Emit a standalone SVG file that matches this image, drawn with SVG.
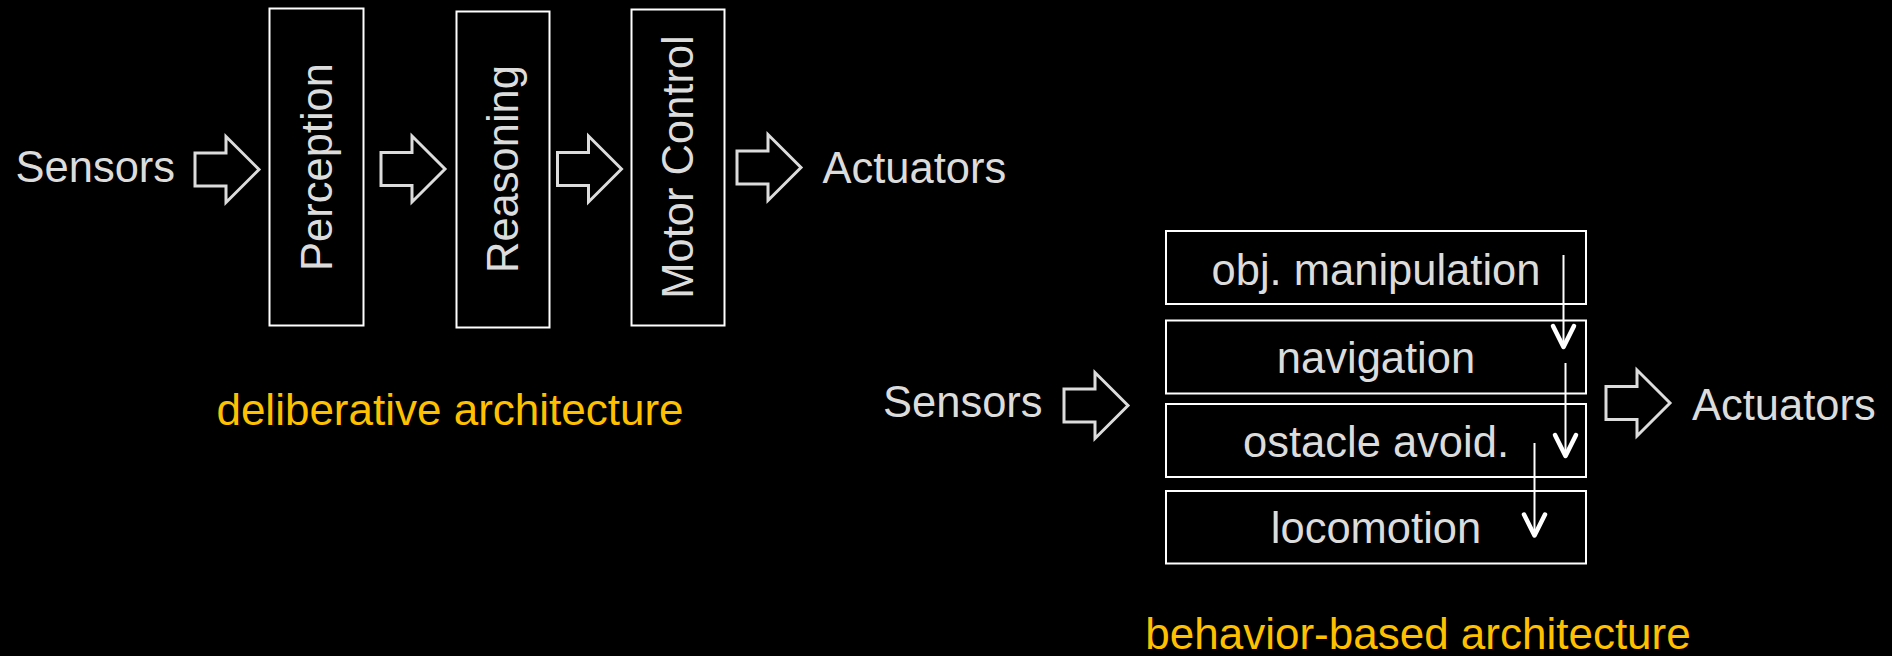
<svg xmlns="http://www.w3.org/2000/svg" xmlns:xlink="http://www.w3.org/1999/xlink" width="1892" height="656" viewBox="0 0 1892 656">
  <style>
    .lbl { font-family: "Liberation Sans", Arial, sans-serif; font-size: 43.5px; fill: #dcdcdc; }
    .cap { font-family: "Liberation Sans", Arial, sans-serif; font-size: 44px; fill: #FFC000; }
    .box { fill: #000; stroke: #fff; stroke-width: 2; }
    .block { fill: none; stroke: #dcdcdc; stroke-width: 3; stroke-linejoin: miter; }
    .flow { fill: none; stroke: #fff; stroke-width: 2; }
    .head { fill: none; stroke: #fff; stroke-width: 4.5; stroke-linecap: round; stroke-linejoin: round; }
  </style>
  <defs>
    <!-- hollow block arrow, origin at left end of shaft, centred vertically -->
    <path id="blockArrow" d="M0,-16.5 H31 V-33 L64,0 L31,33 V16.5 H0 Z"/>
    <!-- open V arrowhead pointing down, origin at the tip -->
    <path id="vHead" d="M-10.5,-22 L0,-1 L10.5,-22"/>
  </defs>

  <rect x="0" y="0" width="1892" height="656" fill="#000"/>

  <!-- deliberative pipeline -->
  <g id="sensors-left"><text class="lbl" x="15.5" y="182">Sensors</text></g>

  <g id="perception">
    <rect class="box" x="269.5" y="8.5" width="94" height="317"/>
    <text class="lbl" text-anchor="middle" transform="translate(316.5,167) rotate(-90)" x="0" y="15.4">Perception</text>
  </g>

  <g id="reasoning">
    <rect class="box" x="456.5" y="11.5" width="93" height="316"/>
    <text class="lbl" text-anchor="middle" transform="translate(503,169) rotate(-90)" x="0" y="15.4">Reasoning</text>
  </g>

  <g id="motor-control">
    <rect class="box" x="631.5" y="9.5" width="93" height="316"/>
    <text class="lbl" text-anchor="middle" transform="translate(678,167) rotate(-90)" x="0" y="15.4">Motor Control</text>
  </g>

  <g id="actuators-left"><text class="lbl" x="822.5" y="183">Actuators</text></g>

  <g id="caption-deliberative"><text class="cap" text-anchor="middle" x="450" y="425">deliberative architecture</text></g>

  <!-- behaviour-based layers -->
  <g id="sensors-right"><text class="lbl" x="883" y="416.5">Sensors</text></g>

  <g id="obj-manipulation">
    <rect class="box" x="1166" y="231" width="420" height="73"/>
    <text class="lbl" text-anchor="middle" x="1376" y="284.5">obj. manipulation</text>
  </g>
  <g id="navigation">
    <rect class="box" x="1166" y="320.5" width="420" height="73"/>
    <text class="lbl" text-anchor="middle" x="1376" y="373">navigation</text>
  </g>
  <g id="obstacle-avoid">
    <rect class="box" x="1166" y="404" width="420" height="73"/>
    <text class="lbl" text-anchor="middle" x="1376" y="457">ostacle avoid.</text>
  </g>
  <g id="locomotion">
    <rect class="box" x="1166" y="491" width="420" height="72.5"/>
    <text class="lbl" text-anchor="middle" x="1376" y="543">locomotion</text>
  </g>

  <g id="actuators-right"><text class="lbl" x="1692" y="419.5">Actuators</text></g>

  <g id="caption-behavior"><text class="cap" text-anchor="middle" x="1418" y="649">behavior-based architecture</text></g>

  <!-- connectors -->
  <g id="connectors">
    <use xlink:href="#blockArrow" class="block" transform="translate(195,169.5)"/>
    <use xlink:href="#blockArrow" class="block" transform="translate(381,169)"/>
    <use xlink:href="#blockArrow" class="block" transform="translate(557.5,169)"/>
    <use xlink:href="#blockArrow" class="block" transform="translate(737,167.5)"/>
    <use xlink:href="#blockArrow" class="block" transform="translate(1064,405.5)"/>
    <use xlink:href="#blockArrow" class="block" transform="translate(1606,403)"/>

    <line class="flow" x1="1563.5" y1="255" x2="1563.5" y2="346"/>
    <use xlink:href="#vHead" class="head" transform="translate(1563.5,348)"/>
    <line class="flow" x1="1565.5" y1="363" x2="1565.5" y2="455"/>
    <use xlink:href="#vHead" class="head" transform="translate(1565.5,457)"/>
    <line class="flow" x1="1534.5" y1="443" x2="1534.5" y2="534.5"/>
    <use xlink:href="#vHead" class="head" transform="translate(1534.5,536.5)"/>
  </g>
</svg>
